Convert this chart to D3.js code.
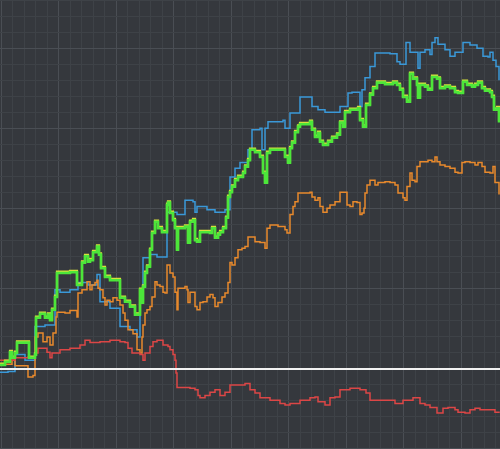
<!DOCTYPE html>
<html>
<head>
<meta charset="utf-8">
<script src="https://cdn.jsdelivr.net/npm/d3@7"></script>
<style>
  html, body { margin: 0; padding: 0; background: #35383d; }
  svg { display: block; }
</style>
</head>
<body>
<svg id="chart" width="500" height="449"></svg>
<script>
// [time, return %] pairs
var blueSeries = [
  [0, -0.4], [1.6, -0.3], [3, 1.8], [5, 1.1], [7, 5.3], [9, 5.5], [11, 9.9], [12, 9.6],
  [14, 9.9], [15.6, 10.8], [17.6, 10.5], [19.4, 11.8], [20, 8.4], [22, 7.6], [24, 5.3],
  [26, 4.9], [27.4, 4], [28, 8.6], [28.6, 13.9], [30, 14.3], [31.4, 14], [33.4, 19.6],
  [35.4, 19.3], [37, 21.1], [38.6, 20.9], [39, 19.6], [39.4, 20.3], [41.4, 19.9], [43, 19.6],
  [45, 19.9], [46, 24], [47, 25.1], [48, 25.8], [49.6, 27.4], [50.4, 29.9], [52, 30.1],
  [52.4, 27.4], [53, 30.1], [53.6, 30.9], [56.6, 31.1], [57, 30.1], [58, 32], [60, 34],
  [62.4, 32.8], [63.6, 32.4], [65, 32.1], [68, 32.8], [69.6, 34.5], [70.4, 34.6], [72, 32.8],
  [72.4, 34.9], [73, 36.4], [74, 37.8], [75, 39.5], [78, 39.4], [79.4, 38.4], [80, 38.1],
  [81.2, 40.8], [82, 39.6], [83.6, 37.6], [84, 39.6], [85, 39.9], [86, 39.3], [86.4, 40.8],
  [87, 41.4], [87.6, 40.6], [89, 39.9], [90, 39.1], [91, 39.6], [92.6, 40.8], [94, 40.5],
  [95.4, 40.1], [96.6, 39.1], [97.6, 39], [98, 39.6], [98.6, 38.6], [99.2, 37.8], [99.8, 36.1]
];

var greenSeries = [
  [0, 0.5], [1, 0.9], [2, 2.1], [2.4, 1.4], [3, 2], [3.4, 3.3], [5.8, 1.4], [7, 1.8],
  [7.2, 6.4], [8, 6.9], [9, 6.4], [9.6, 6.8], [10, 6.1], [10.4, 7.4], [11, 9], [11.4, 12],
  [14, 12.1], [15.4, 10.5], [16.4, 13.3], [17, 14.1], [17.6, 13.4], [18, 13.6], [18.6, 14.6],
  [19.4, 15.3], [19.8, 14.3], [20.2, 12.6], [21, 11.5], [22, 11.1], [24, 8.9], [25, 8.4],
  [26, 7.8], [27, 6.8], [28, 9.9], [28.4, 8.3], [28.6, 10.3], [29, 12], [29.4, 12.8],
  [30, 14.9], [30.4, 17], [31, 18.4], [31.6, 17.6], [32.4, 17.1], [33.4, 20.5], [33.6, 20.8],
  [34, 19.5], [34.6, 18.6], [35, 17.6], [35.4, 14.9], [35.6, 17.6], [37, 17.8], [37.6, 15.8],
  [38, 18.4], [38.6, 18.6], [39, 16.1], [39.4, 15.9], [40, 17.1], [42, 17], [42.4, 17.6],
  [43, 16.4], [43.6, 16.8], [44, 17.1], [44.6, 17.6], [45.2, 18.9], [45.6, 21.5], [46, 22.1],
  [46.4, 22.8], [47, 23.6], [47.6, 24], [48.6, 24.5], [49, 25.3], [49.6, 26.1], [50, 27.4],
  [51, 27.1], [52, 26.5], [52.6, 24.5], [53, 23.3], [53.4, 27], [54, 27.4], [57, 26.5],
  [57.6, 25.8], [58, 27.6], [58.4, 28.3], [59, 29.6], [59.6, 30.3], [60, 30.6], [62, 30.9],
  [62.4, 29.9], [63, 29], [63.6, 29.5], [64, 28.4], [64.6, 28], [65.6, 28.4], [66.4, 28.9],
  [67.4, 29.3], [68, 30.8], [68.6, 30.3], [69, 32.1], [70, 32.4], [71.6, 32.6], [72, 31.1],
  [72.6, 30.3], [73.2, 33], [74, 34.3], [74.6, 35.1], [75.4, 35.8], [77, 35.6], [78.6, 35.8],
  [79.4, 35.5], [80, 34.9], [80.6, 34], [81.4, 33.4], [82, 36.9], [82.6, 36.3], [83.4, 35.5],
  [83.6, 33.9], [84, 35.5], [85, 35.3], [85.6, 34.9], [86.4, 36.5], [87.4, 36.3], [88, 35.1],
  [89, 35.3], [90, 35.1], [91, 34.6], [91.6, 34.5], [92.6, 35.9], [93.4, 35.5], [94.4, 35.3],
  [95, 35.5], [95.6, 35.8], [96.4, 35.1], [97, 34.8], [98, 34.6], [98.4, 34], [98.8, 32.4],
  [99.4, 32.6], [99.8, 30.8]
];

var orangeSeries = [
  [0, 0.6], [2.4, 1.1], [3, 0.4], [5.6, -1], [6.6, -0.8], [7, 4], [7.6, 4.5], [8.6, 3.4],
  [9.4, 4], [10, 3], [10.6, 4.5], [11.2, 6.5], [11.4, 7.1], [13, 7], [14, 7.3], [15.4, 6.5],
  [15.6, 9.5], [16.4, 9.9], [17.4, 10.9], [18, 9.9], [18.4, 10.5], [19, 10.8], [19.4, 11.1],
  [19.6, 10.1], [20, 9.9], [20.6, 8.9], [21, 8], [21.4, 8.6], [22, 8.4], [22.6, 8.9],
  [23.4, 8.6], [24, 8], [24.6, 7], [25, 6.1], [25.6, 4.9], [26.6, 4.4], [27.4, 2.4], [28, 2],
  [28.4, 4], [28.6, 5.5], [29, 7], [29.4, 7.4], [30, 7.8], [30.4, 9], [31, 10.9], [31.4, 10.5],
  [32, 10.3], [32.6, 9.6], [33, 9.5], [33.4, 13], [34, 12], [34.6, 11.5], [35, 9.6],
  [35.4, 7.4], [35.6, 10.1], [37, 10.3], [37.4, 9.9], [37.6, 8.3], [38, 9.6], [39, 7.8],
  [39.4, 7.4], [40, 8.3], [40.6, 8.4], [41.4, 9], [42, 9.3], [42.6, 8.9], [43, 7.8],
  [43.6, 8.3], [44.4, 9], [45, 9.5], [45.6, 10.8], [46, 13.3], [46.4, 13], [47, 13.9],
  [47.6, 14.9], [48.4, 15.1], [49, 15.3], [49.6, 16.5], [51, 15.9], [52, 15.8], [53, 15.1],
  [53.4, 17.6], [54, 18], [55.6, 17.8], [57, 17.4], [57.4, 17], [58, 19.3], [58.6, 20.3],
  [59, 20.9], [59.6, 22], [62, 22.1], [62.4, 21.5], [63, 21.1], [63.6, 21.4], [64, 20.3],
  [64.6, 19.6], [65.4, 20.1], [66, 20.5], [67, 20.9], [68, 22.1], [69.4, 20.5], [70, 20.3],
  [70.6, 20.9], [71.4, 20.8], [72, 19.3], [72.4, 19.5], [72.8, 20.1], [73, 22], [73.4, 23],
  [74, 23.6], [75, 23], [75.6, 23.3], [77, 23.4], [78, 23.3], [79, 23], [79.6, 22],
  [80.6, 21.4], [81, 21.1], [81.4, 22.8], [82, 24.5], [82.4, 23.6], [83, 23.4], [83.4, 25.3],
  [84, 25.9], [85.6, 26.1], [86.4, 25.9], [87, 26.5], [87.4, 25.9], [88, 25.5], [89, 25.3],
  [90, 25.1], [91, 24.6], [91.6, 24.5], [92.4, 25.8], [93, 25.9], [94, 25.8], [95, 25.5],
  [95.6, 25.8], [96.4, 25.3], [97, 24.6], [98, 24.5], [98.6, 25.3], [99, 23.3], [99.8, 21.8]
];

var redSeries = [
  [0, 1.1], [3, 1.4], [5.6, 1.5], [7, 2], [7.6, 2.6], [9.4, 2.1], [10, 1.4], [10.4, 2],
  [12, 2.4], [14, 2.6], [16, 3], [17, 3.6], [18, 3.3], [20, 3.4], [22, 3.6], [24, 3.4],
  [25, 3.3], [25.6, 2.6], [26.4, 2], [28, 1.8], [28.6, 1.1], [29, 2], [30, 2.8], [30.6, 3.4],
  [31.4, 3.6], [32.6, 3], [33.6, 2.8], [34, 2.4], [34.6, 1.8], [35, 1.1], [35.2, -0.5],
  [35.4, -2.3], [38, -2.4], [39, -2.6], [39.6, -3.3], [40, -3.6], [41, -3.3], [42, -2.9],
  [43, -2.6], [44, -3.3], [45, -2.9], [46, -2], [49, -1.8], [50, -2.6], [51, -3], [52, -3.6],
  [54, -3.9], [56, -4.3], [57, -4.5], [58, -4.3], [60, -3.9], [62, -3.6], [63, -3.5],
  [63.6, -4.1], [65, -4.5], [66, -3.6], [67, -3.5], [68, -2.6], [70, -2.4], [72, -2.6],
  [73.2, -3], [74, -3.9], [79, -4.3], [80.6, -3.9], [82.6, -3.6], [84, -4.3], [85, -4.5],
  [86, -4.8], [87.4, -5.5], [88.6, -4.9], [89.6, -4.8], [91, -5.1], [91.6, -5.4], [93, -5.5],
  [94, -5.1], [95, -4.9], [96, -5.1], [99, -5.4], [99.8, -5.5]
];

var xDomain = [0, 100],
  yDomain = [-10, 46],
  xGridStep = 2.3,
  yGridStep = 2;

var svg = d3.select("#chart"),
  width = +svg.attr("width"),
  height = +svg.attr("height");

var x = d3.scaleLinear().domain(xDomain).range([0, width]),
  y = d3.scaleLinear().domain(yDomain).range([height, 1]);

svg.append("rect")
  .attr("width", width)
  .attr("height", height)
  .attr("fill", "#35383d");

// grid: minor lines every step, a brighter one every 5th
var xTicks = d3.range(0.16, xDomain[1] + 1, xGridStep),
  yTicks = d3.range(yDomain[0], yDomain[1] + 0.1, yGridStep);

var grid = svg.append("g").attr("class", "grid");

grid.selectAll("line.vx")
  .data(xTicks)
  .enter().append("line")
  .attr("x1", function (d) { return Math.round(x(d)) + 0.5; })
  .attr("x2", function (d) { return Math.round(x(d)) + 0.5; })
  .attr("y1", 0)
  .attr("y2", height)
  .attr("stroke", function (d, i) { return i % 5 === 0 ? "#4a4e54" : "#3e4247"; })
  .attr("stroke-width", 1);

grid.selectAll("line.hy")
  .data(yTicks)
  .enter().append("line")
  .attr("x1", 0)
  .attr("x2", width)
  .attr("y1", function (d) { return Math.round(y(d)) - 0.5; })
  .attr("y2", function (d) { return Math.round(y(d)) - 0.5; })
  .attr("stroke", function (d) { return d % 10 === 0 ? "#4a4e54" : "#3e4247"; })
  .attr("stroke-width", 1);

var line = d3.line()
  .curve(d3.curveStepAfter)
  .x(function (d) { return x(d[0]); })
  .y(function (d) { return y(d[1]); });

var series = [
  { data: blueSeries, color: "#3a98d8", w: 1.5 },
  { data: orangeSeries, color: "#e8892c", w: 1.5 },
  { data: redSeries, color: "#dc4646", w: 1.5 }
];

svg.append("g")
  .selectAll("path")
  .data(series)
  .enter().append("path")
  .attr("d", function (d) { return line(d.data); })
  .attr("fill", "none")
  .attr("stroke", function (d) { return d.color; })
  .attr("stroke-width", function (d) { return d.w; });

// green line has a yellow edge on top
svg.append("path")
  .attr("d", line(greenSeries))
  .attr("transform", "translate(0,-1.3)")
  .attr("fill", "none")
  .attr("stroke", "#d6e03c")
  .attr("stroke-width", 2.2);

svg.append("path")
  .attr("d", line(greenSeries))
  .attr("fill", "none")
  .attr("stroke", "#4ce63a")
  .attr("stroke-width", 2.6);

// zero line
svg.append("line")
  .attr("x1", 0)
  .attr("x2", width)
  .attr("y1", y(0))
  .attr("y2", y(0))
  .attr("stroke", "#f2f2f2")
  .attr("stroke-width", 2);
</script>
</body>
</html>
